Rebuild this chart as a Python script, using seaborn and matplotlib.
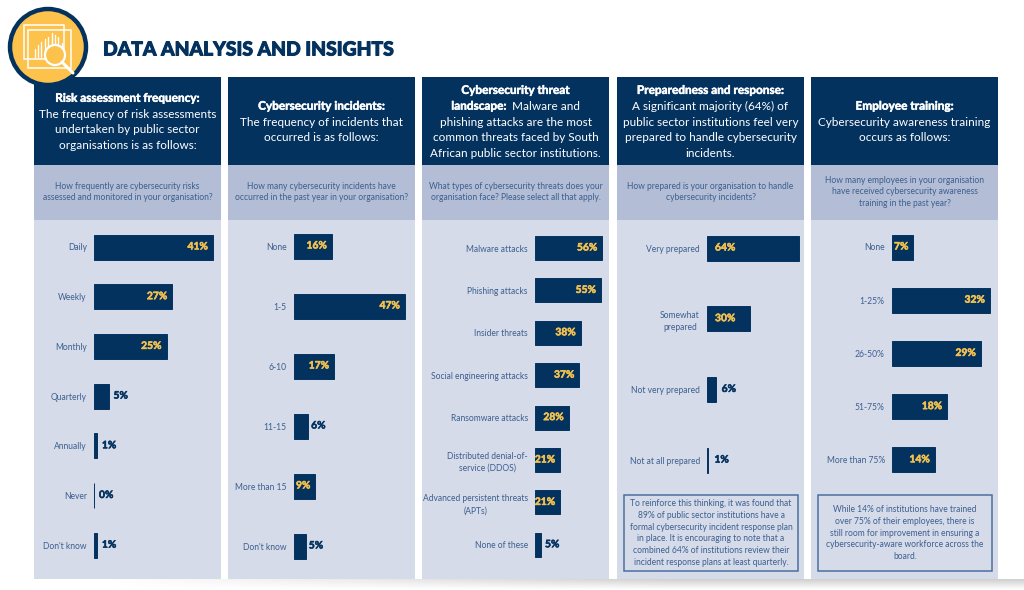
import numpy as np
import matplotlib
matplotlib.use("Agg")
import matplotlib.pyplot as plt
import matplotlib.patheffects as pe
from matplotlib.patches import Rectangle, Circle
import pandas as pd
import seaborn as sns

sns.set_theme(style="white")
plt.rcParams['font.family'] = ['Lato', 'DejaVu Sans']

NAVY = "#04325f"; MID = "#b3bdd6"; LIGHT = "#d6dbea"; TXT = "#3c5f8e"; GOLD = "#f3c14f"; RING = "#04325f"

title = "DATA ANALYSIS AND INSIGHTS"

risk_cats = ["Daily", "Weekly", "Monthly", "Quarterly", "Annually", "Never", "Don't know"]
risk_vals = [41, 27, 25, 5, 1, 0, 1]
inc_cats = ["None", "1-5", "6-10", "11-15", "More than 15", "Don't know"]
inc_vals = [16, 47, 17, 6, 9, 5]
threat_cats = ["Malware attacks", "Phishing attacks", "Insider threats", "Social engineering attacks",
               "Ransomware attacks", "Distributed denial-of-\nservice (DDOS)",
               "Advanced persistent threats\n(APTs)", "None of these"]
threat_vals = [56, 55, 38, 37, 28, 21, 21, 5]
prep_cats = ["Very prepared", "Somewhat\nprepared", "Not very prepared", "Not at all prepared"]
prep_vals = [64, 30, 6, 1]
train_cats = ["None", "1-25%", "26-50%", "51-75%", "More than 75%"]
train_vals = [7, 32, 29, 18, 14]

heads = [
    [[("Risk assessment frequency:", True)], [("The frequency of risk assessments", False)],
     [("undertaken by public sector", False)], [("organisations is as follows:", False)]],
    [[("Cybersecurity incidents:", True)], [("The frequency of incidents that", False)],
     [("occurred is as follows:", False)]],
    [[("Cybersecurity threat", True)], [("landscape: ", True), ("Malware and", False)],
     [("phishing attacks are the most", False)], [("common threats faced by South", False)],
     [("African public sector institutions.", False)]],
    [[("Preparedness and response:", True)], [("A significant majority (64%) of", False)],
     [("public sector institutions feel very", False)], [("prepared to handle cybersecurity", False)],
     [("incidents.", False)]],
    [[("Employee training:", True)], [("Cybersecurity awareness training", False)],
     [("occurs as follows:", False)]],
]
questions = [
    "How frequently are cybersecurity risks\nassessed and monitored in your organisation?",
    "How many cybersecurity incidents have\noccurred in the past year in your organisation?",
    "What types of cybersecurity threats does your\norganisation face? Please select all that apply.",
    "How prepared is your organisation to handle\ncybersecurity incidents?",
    "How many employees in your organisation\nhave received cybersecurity awareness\ntraining in the past year?",
]
note4 = ("To reinforce this thinking, it was found that\n89% of public sector institutions have a\n"
         "formal cybersecurity incident response plan\nin place. It is encouraging to note that a\n"
         "combined 64% of institutions review their\nincident response plans at least quarterly.")
note5 = ("While 14% of institutions have trained\nover 75% of their employees, there is\n"
         "still room for improvement in ensuring a\ncybersecurity-aware workforce across the\nboard.")

W, H = 1024, 590
fig = plt.figure(figsize=(W/100, H/100), dpi=100, facecolor="white")
bg = fig.add_axes([0, 0, 1, 1]); bg.set_xlim(0, W); bg.set_ylim(H, 0); bg.axis("off")

# soft shadow under the page
ramp = np.clip(np.linspace(0, 1.6, 200), 0, 1)
alpha = (1 - np.linspace(0, 1, 12)).reshape(-1, 1) * ramp.reshape(1, -1) * 0.28
rgba = np.zeros((12, 200, 4)); rgba[..., :3] = 0.35; rgba[..., 3] = alpha
bg.imshow(rgba, extent=(100, 1024, 590, 579), aspect="auto", zorder=0)
bg.set_xlim(0, W); bg.set_ylim(H, 0)

lefts = [34, 228, 422, 617, 811]
pw = 187
renderer = fig.canvas.get_renderer()

def rich_lines(cx, cy, lines, size=8.5, lh=15.8):
    y0 = cy - (len(lines) - 1) * lh / 2
    for i, segs in enumerate(lines):
        arts = [bg.text(0, y0 + i * lh, s, color="white", fontsize=size, va="center",
                        fontweight="bold" if b else "normal") for s, b in segs]
        widths = [a.get_window_extent(renderer).width for a in arts]
        gap = 2.5 if len(segs) > 1 else 0
        x = cx - (sum(widths) + gap) / 2
        for a, w in zip(arts, widths):
            a.set_x(x); x += w + gap
            if a.get_fontweight() == "bold":
                a.set_path_effects([pe.withStroke(linewidth=0.35, foreground="white")])

for l, head, q in zip(lefts, heads, questions):
    bg.add_patch(Rectangle((l, 77), pw, 88, fc=NAVY, ec="none", zorder=1))
    bg.add_patch(Rectangle((l, 165), pw, 55, fc=MID, ec="none", zorder=1))
    bg.add_patch(Rectangle((l, 220), pw, 359, fc=LIGHT, ec="none", zorder=1))
    rich_lines(l + pw/2, 122, head)
    bg.text(l + pw/2, 192, q, ha="center", va="center", color=TXT, fontsize=6.15, linespacing=1.4, zorder=3)

# header
bg.text(103, 50, title, color=NAVY, fontsize=13.9, fontweight="black", va="center",
        path_effects=[pe.withStroke(linewidth=0.7, foreground=NAVY)])
bg.add_patch(Circle((48, 47), 38, fc="#fcc24c", ec=RING, lw=3.2, zorder=5))
for (x, y, w, h) in [(24, 25, 40, 34), (28, 30, 43, 38)]:
    bg.add_patch(Rectangle((x, y), w, h, fc="none", ec="white", lw=1.1, zorder=6))
for bx, bh in zip([35, 38, 41, 45, 48, 52, 55, 58, 62], [8, 12, 15, 18, 20, 24, 22, 20, 14]):
    bg.plot([bx, bx], [57, 57 - bh], color="white", lw=1, zorder=6)
bg.add_patch(Circle((55, 55), 10, fc="#fcc24c", ec="white", lw=1.6, zorder=7))
bg.plot([62, 73], [62, 73], color="white", lw=2.2, zorder=7)

# categories, values, zero px, px per %, first centre, spacing, bar height, inside threshold, base-side labels, outside pad
panels = [
    (risk_cats, risk_vals, 94, 2.90, 247, 49.7, 25, 10, False, 5),
    (inc_cats, inc_vals, 294, 2.36, 246, 60, 25, 8, False, 3),
    (threat_cats, threat_vals, 535, 1.20, 248, 42.4, 24, 10, False, 4),
    (prep_cats, prep_vals, 707, 1.44, 248, 70.7, 25, 10, True, 6),
    (train_cats, train_vals, 892, 3.06, 247, 53.2, 25, 6.5, False, 4),
]
for cats, vals, x0, sc, c0, sp, bh, thr, base, pad in panels:
    xmax = max(vals)
    top = c0 - sp/2; bot = c0 + sp*(len(vals) - 0.5)
    ax = fig.add_axes([x0/W, 1 - bot/H, sc*xmax/W, (bot - top)/H], facecolor="none", zorder=3)
    df = pd.DataFrame({"cat": cats, "val": vals})
    sns.barplot(data=df, y="cat", x="val", color=NAVY, saturation=1, width=bh/sp, ax=ax, orient="h",
                edgecolor=NAVY, linewidth=0.7)
    for p in ax.patches:
        p.set_clip_on(False)
    ax.set_xlim(0, xmax); ax.set_ylim(len(vals) - 0.5, -0.5)
    ax.set_xlabel(""); ax.set_ylabel(""); ax.set_xticks([])
    sns.despine(ax=ax, left=True, bottom=True)
    ax.tick_params(axis="y", length=0, pad=5.2, labelsize=6.15, labelcolor=TXT)
    for t in ax.get_yticklabels():
        t.set_multialignment("center"); t.set_linespacing(1.4)
    for i, v in enumerate(vals):
        kw = dict(textcoords="offset pixels", fontsize=7.4, fontweight="bold", va="center", annotation_clip=False)
        if v >= thr:
            col = GOLD
            if base:
                a = ax.annotate(f"{v}%", (0, i), xytext=(8, 0), color=col, ha="left", **kw)
            else:
                a = ax.annotate(f"{v}%", (v, i), xytext=(-5, 0), color=col, ha="right", **kw)
        else:
            col = NAVY
            a = ax.annotate(f"{v}%", (v, i), xytext=(pad, 0), color=col, ha="left", **kw)
        a.set_path_effects([pe.withStroke(linewidth=0.4, foreground=col)])

for x, note in [(624, note4), (818, note5)]:
    bg.add_patch(Rectangle((x, 495), 174, 76, fc="none", ec="#4a6f9f", lw=1.1, zorder=2))
    bg.text(x + 87, 533, note, ha="center", va="center", color=TXT, fontsize=6.15, linespacing=1.4, zorder=3)

fig.savefig("out.png", dpi=100)
